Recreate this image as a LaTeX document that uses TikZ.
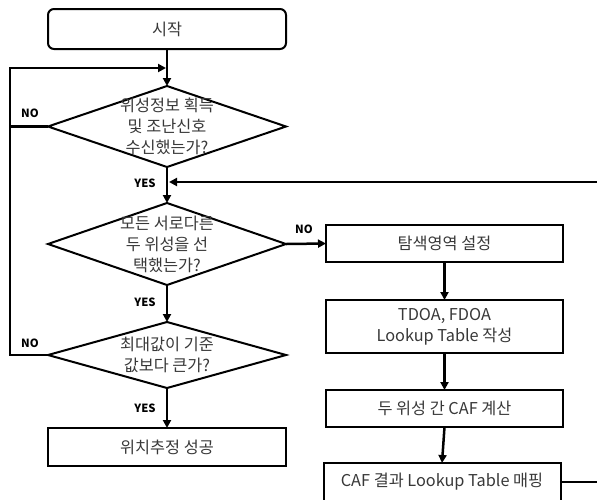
\documentclass[tikz,border=0pt]{standalone}
\usepackage{fontspec}
\setmainfont{Noto Sans CJK KR}
\usetikzlibrary{shapes.geometric,arrows.meta}
\definecolor{txtgray}{HTML}{383838}
\tikzset{
  box/.style={draw=black, line width=2pt, minimum width=238pt, inner sep=0pt, outer sep=0pt},
  dia/.style={draw=black, line width=2pt, diamond, inner sep=0pt, outer sep=0pt, minimum width=238pt},
  txt/.style={text=txtgray, font=\fontsize{16.3}{21}\selectfont, align=center, inner sep=0pt},
  lbl/.style={font=\fontsize{11.3}{12}\selectfont\bfseries, text=black, inner sep=0pt},
  conn/.style={draw=black, line width=2.5pt},
  arr/.style={conn, -{Triangle[length=8pt,width=8pt]}},
}
\begin{document}
\begin{tikzpicture}[x=1pt,y=-1pt]
\useasboundingbox (0,0) rectangle (597,499);
% left column
\node[box, rounded corners=6pt, minimum height=40pt] (start) at (167,29) {};
\node[txt] at (start) {시작};
\node[dia, minimum height=81pt] (d1) at (167,126.5) {};
\node[txt] at (d1) {위성정보 획득\\및 조난신호\\수신했는가?};
\node[dia, minimum height=82pt] (d2) at (167,244) {};
\node[txt] at (d2) {모든 서로다른\\두 위성을 선\\택했는가?};
\node[dia, minimum height=66pt] (d3) at (167,355) {};
\node[txt] at (d3) {최대값이 기준\\값보다 큰가?};
\node[box, minimum height=38pt] (succ) at (167,447) {};
\node[txt] at (succ) {위치추정 성공};
% right column
\node[box, minimum width=237pt, minimum height=37pt] (b1) at (444.5,243.5) {};
\node[txt] at (b1) {탐색영역 설정};
\node[box, minimum width=237pt, minimum height=53pt] (b2) at (444.5,326.5) {};
\node[txt] at (b2) {TDOA, FDOA\\Lookup Table 작성};
\node[box, minimum width=237pt, minimum height=37pt] (b3) at (444.5,408.5) {};
\node[txt] at (b3) {두 위성 간 CAF 계산};
\node[box, minimum width=237pt, minimum height=38pt] (b4) at (442,482) {};
\node[txt] at (b4) {CAF 결과 Lookup Table 매핑};
% coordinates
\coordinate (lc) at (10,68);
\coordinate (lt) at (166,68);
\coordinate (rt) at (169,182);
\coordinate (rc) at (640,182);
% connectors
\draw[arr] (start.south) -- (d1.north);
\draw[arr] (d1.south) -- (d2.north);
\draw[arr] (d2.south) -- (d3.north);
\draw[arr] (d3.south) -- (succ.north);
\draw[arr] (d2.east) -- (b1.west);
\draw[arr] (b1.south) -- (b2.north);
\draw[arr] (b2.south) -- (b3.north);
\draw[arr] (b3.south) -- (b4.north);
\draw[conn] (d1.west) -- (d1.west -| lc);
\draw[arr] (d3.west) -| (lc) -- (lt);
\draw[arr] (b4.east) -| (rc) -- (rt);
% labels
\node[lbl] (no1) at (30,113) {NO};
\node[lbl] (no2) at (30,343) {NO};
\node[lbl] (no3) at (304,229) {NO};
\node[lbl] (yes1) at (145,183) {YES};
\node[lbl] (yes2) at (145,302) {YES};
\node[lbl] (yes3) at (145,408) {YES};
\end{tikzpicture}
\end{document}
